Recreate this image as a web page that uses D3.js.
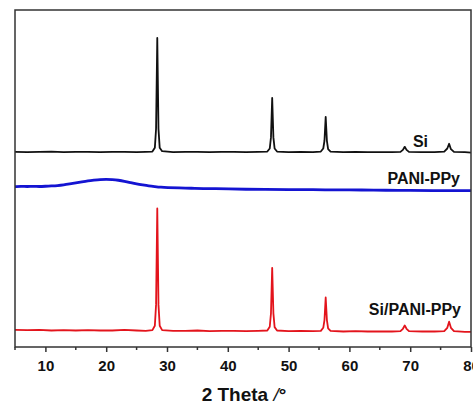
<!DOCTYPE html>
<html>
<head>
<meta charset="utf-8">
<script src="https://cdn.jsdelivr.net/npm/d3@7"></script>
<style>
  body { margin: 0; background: #fff; }
  svg text { font-family: "Liberation Sans", Arial, sans-serif; font-weight: bold; }
</style>
</head>
<body>
<div id="chart"></div>
<script>
// tick labels of the 2 theta axis
const majorTicks = [10, 20, 30, 40, 50, 60, 70, 80]
const minorTicks = [5, 15, 25, 35, 45, 55, 65, 75]

// names of the patterns and the vertical offset (a.u.) each one is drawn at
const seriesNames = ["Si", "PANI-PPy", "Si/PANI-PPy"]
const seriesOffsets = [577, 463, 45]
const seriesColors = ["#111111", "#1414d2", "#e3141c"]

// [2theta, intensity]
const siData = [[5,2],[7,1],[9,2],[11,3],[13,1],[15,2],[17,2],[19,1],[21,2],[23,2],[25,1],[26.5,2],
  [27.6,3],[28.0,14],[28.2,70],[28.4,340],[28.6,70],[28.8,14],[29.2,4],[31,1],[33,2],[35,2],[37,1],
  [39,2],[41,2],[43,1],[45,2],[46.5,3],[46.9,12],[47.1,45],[47.3,162],[47.5,45],[47.7,12],[48.1,3],
  [50,1],[52,2],[54,1],[55.3,3],[55.7,12],[55.9,35],[56.1,106],[56.3,35],[56.5,10],[56.9,3],[59,1],
  [61,2],[63,1],[65,1],[67,1],[68.4,2],[68.8,8],[69.1,17],[69.4,8],[69.8,2],[72,1],[74,1],
  [75.6,3],[76.1,12],[76.4,26],[76.7,10],[77.2,2],[79,1],[80,0]]

const panippyData = [[5,13],[6,14],[7,13],[8,14],[9,13],[10,14],[11,15],[12,16],[13,18],[14,21],[15,24],
  [16,27],[17,30],[18,32],[19,34],[20,35],[21,34],[22,32],[23,29],[24,25],[25,21],[26,18],[27,15],
  [28,13],[29,11],[30,10],[32,9],[34,8],[36,7],[38,7],[40,6],[43,5],[46,5],[50,4],[54,4],[58,3],
  [62,3],[66,2],[70,2],[74,1],[77,1],[80,1]]

const sipanippyData = [[5,6],[7,5],[9,6],[11,4],[13,5],[15,4],[17,5],[19,4],[21,4],[23,6],[25,4],[26.5,3],
  [27.6,5],[28.0,18],[28.2,80],[28.4,366],[28.6,80],[28.8,18],[29.2,5],[31,3],[33,3],[35,4],[37,2],
  [39,3],[41,3],[43,2],[45,3],[46.5,4],[46.9,15],[47.1,55],[47.3,190],[47.5,55],[47.7,14],[48.1,4],
  [50,2],[52,3],[54,2],[55.3,3],[55.7,12],[55.9,35],[56.1,102],[56.3,35],[56.5,10],[56.9,3],[59,1],
  [61,2],[63,1],[65,1],[67,1],[68.4,2],[68.8,9],[69.1,19],[69.4,9],[69.8,2],[72,1],[74,1],
  [75.6,2],[76.1,12],[76.4,30],[76.7,12],[77.2,2],[79,0],[80,0]]

const allData = [siData, panippyData, sipanippyData]

//chart dimensions
const width = 473, height = 404
const plot = {left: 15, right: 471, top: 10, bottom: 347}

const svg = d3.select("#chart").append("svg")
  .attr("width", width)
  .attr("height", height)

const x = d3.scaleLinear().domain([5, 80]).range([plot.left, plot.right])
const y = d3.scaleLinear().domain([0, 1000]).range([plot.bottom, plot.top])

// curves
const line = d3.line()
  .x(d => x(d[0]))
  .y(d => y(d[1]))

allData.forEach((data, i) => {
  svg.append("path")
    .datum(data.map(d => [d[0], d[1] + seriesOffsets[i]]))
    .attr("fill", "none")
    .attr("stroke", seriesColors[i])
    .attr("stroke-width", i == 1 ? 2.8 : 1.8)
    .attr("stroke-linejoin", "round")
    .attr("d", i == 1 ? line.curve(d3.curveBasis) : line.curve(d3.curveLinear))
})

// frame
svg.append("rect")
  .attr("x", plot.left)
  .attr("y", plot.top)
  .attr("width", plot.right - plot.left)
  .attr("height", plot.bottom - plot.top)
  .attr("fill", "none")
  .attr("stroke", "#333")
  .attr("stroke-width", 1.5)

// x axis, ticks pointing out
const xAxis = d3.axisBottom(x)
  .tickValues(majorTicks)
  .tickSize(5)
  .tickPadding(8)
svg.append("g")
  .attr("transform", "translate(0," + plot.bottom + ")")
  .call(xAxis)
  .call(g => g.select(".domain").remove())
  .call(g => g.selectAll("line").attr("stroke", "#333").attr("stroke-width", 1.5))
  .call(g => g.selectAll("text")
    .attr("fill", "#111")
    .style("font-size", "15px")
    .style("font-family", "'Liberation Sans', Arial, sans-serif")
    .style("font-weight", "bold"))

svg.append("g")
  .selectAll("line")
  .data(minorTicks)
  .enter().append("line")
  .attr("x1", d => x(d))
  .attr("x2", d => x(d))
  .attr("y1", plot.bottom)
  .attr("y2", plot.bottom + 3)
  .attr("stroke", "#333")
  .attr("stroke-width", 1.5)

// series labels
const labelPos = [[428, 147], [460, 184], [461, 315]]
seriesNames.forEach((name, i) => {
  svg.append("text")
    .attr("x", labelPos[i][0])
    .attr("y", labelPos[i][1])
    .attr("text-anchor", "end")
    .style("font-size", "16px")
    .attr("fill", "#111")
    .text(name)
})

// axis title
const title = svg.append("text")
  .attr("x", 244)
  .attr("y", 401)
  .attr("text-anchor", "middle")
  .style("font-size", "19px")
  .attr("fill", "#111")
title.append("tspan").text("2 Theta ")
title.append("tspan").style("font-style", "italic").style("font-weight", "normal").text("/")
title.append("tspan").text("°")
</script>
</body>
</html>
